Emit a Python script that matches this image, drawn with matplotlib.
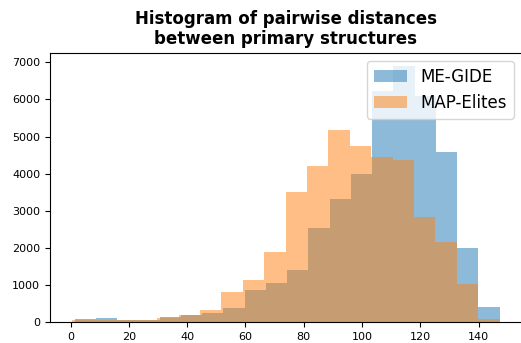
"""Pairwise distance histogram: ME-GIDE vs MAP-Elites"""
import numpy as np
import matplotlib
matplotlib.use("Agg")
import matplotlib.pyplot as plt

# bin ranges (20 bins each)
n_bins = 20
megide_range = (1.37, 147.2)
mapelites_range = (0.34, 147.2)

# counts per bin
megide_counts = [80, 125, 70, 60, 140, 200, 240, 390, 870, 1050,
                 1400, 2550, 3320, 3990, 6230, 6910, 6100, 4580, 1990, 420]
mapelites_counts = [60, 55, 50, 60, 110, 200, 320, 810, 1140, 1890,
                    3520, 4210, 5180, 4750, 4460, 4370, 2830, 2150, 1020, 80]

megide_edges = np.linspace(megide_range[0], megide_range[1], n_bins + 1)
mapelites_edges = np.linspace(mapelites_range[0], mapelites_range[1], n_bins + 1)

fig = plt.figure(figsize=(5.21, 3.43), dpi=100)
ax = fig.add_axes([50 / 521, 20.7 / 343, 472 / 521, 269.6 / 343])

#weights let hist draw the counts directly
ax.hist(megide_edges[:-1], bins=megide_edges, weights=megide_counts,
        alpha=0.5, label="ME-GIDE")
ax.hist(mapelites_edges[:-1], bins=mapelites_edges, weights=mapelites_counts,
        alpha=0.5, label="MAP-Elites")

ax.set_xlim(-7.05, 154.9)
ax.set_ylim(0, 7259)
ax.set_xticks(range(0, 141, 20))
ax.set_yticks(range(0, 7001, 1000))
ax.tick_params(labelsize=8)
ax.spines["right"].set_visible(False)

ax.set_title("Histogram of pairwise distances\nbetween primary structures",
             fontsize=12, fontweight="bold")
ax.legend(loc="upper right", fontsize=12)

fig.savefig("out.png", dpi=100)
